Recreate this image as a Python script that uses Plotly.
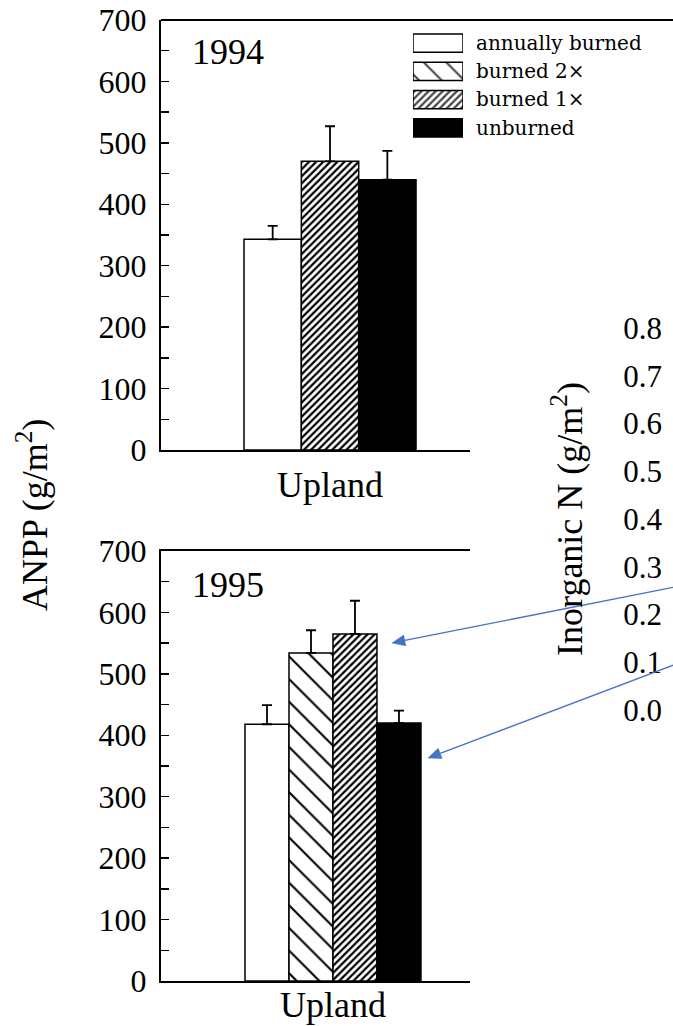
import math
import plotly.graph_objects as go

W, H = 673, 1026


def fx(x):
    return x / W


def fy(y):
    return 1 - y / H


# ---------------- data ----------------
site = ["Upland"]
treatments = ["annually burned", "burned 2×", "burned 1×", "unburned"]

treat_1994 = ["annually burned", "burned 1×", "unburned"]
anpp_1994 = [343, 470, 440]
err_1994 = [22, 57, 47]

treat_1995 = ["annually burned", "burned 2×", "burned 1×", "unburned"]
anpp_1995 = [418, 534, 565, 420]
err_1995 = [31, 37, 54, 20]

anpp_ticks = [0, 100, 200, 300, 400, 500, 600, 700]
n_ticks = [0.0, 0.1, 0.2, 0.3, 0.4, 0.5, 0.6, 0.7, 0.8]

# ---------------- styles ----------------
style = {
    "annually burned": dict(color="white", shape="", size=8, solidity=0.2),
    "burned 2×": dict(color="white", shape="\\", size=16, solidity=0.13),
    "burned 1×": dict(color="white", shape="/", size=5, solidity=0.45),
    "unburned": dict(color="black", shape="", size=8, solidity=0.2),
}

SERIF = "Liberation Serif"

fig = go.Figure()


def add_panel(treats, vals, errs, xa, ya):
    for t, v, e in zip(treats, vals, errs):
        s = style[t]
        fig.add_trace(go.Bar(
            x=site, y=[v], name=t, xaxis=xa, yaxis=ya,
            marker=dict(
                color=s["color"],
                line=dict(color="black", width=1.5),
                pattern=dict(shape=s["shape"], size=s["size"], solidity=s["solidity"],
                             fgcolor="black", bgcolor=s["color"], fgopacity=1,
                             fillmode="overlay"),
            ),
            error_y=dict(type="data", symmetric=False, array=[e], arrayminus=[0],
                         color="black", thickness=1.8, width=5),
            showlegend=False,
        ))


add_panel(treat_1994, anpp_1994, err_1994, "x", "y")
add_panel(treat_1995, anpp_1995, err_1995, "x2", "y2")

# legend swatches (drawn as a bar trace on a hidden axis)
fig.add_trace(go.Bar(
    x=[1] * len(treatments), y=list(range(len(treatments))), orientation="h",
    xaxis="x4", yaxis="y4", width=0.64,
    marker=dict(
        color=[style[t]["color"] for t in treatments],
        line=dict(color="black", width=1.5),
        pattern=dict(shape=[style[t]["shape"] for t in treatments],
                     size=[style[t]["size"] for t in treatments],
                     solidity=[style[t]["solidity"] for t in treatments],
                     fgcolor="black", fgopacity=1,
                     bgcolor=[style[t]["color"] for t in treatments],
                     fillmode="overlay"),
    ),
    showlegend=False, hoverinfo="skip",
))

# empty trace to host the cropped Inorganic N axis
fig.add_trace(go.Scatter(x=[], y=[], xaxis="x3", yaxis="y3", showlegend=False))

yax = dict(
    range=[0, 700], tickmode="array", tickvals=anpp_ticks,
    ticks="inside", ticklen=8, tickwidth=1.5, tickcolor="black",
    minor=dict(ticks="inside", ticklen=8, dtick=50, tickwidth=1.5, tickcolor="black"),
    showline=True, linewidth=2, linecolor="black",
    showgrid=False, zeroline=False,
    tickfont=dict(family=SERIF, size=32, color="black"),
    ticklabelstandoff=6, automargin=False,
)
xax = dict(
    type="category", showline=True, linewidth=2, linecolor="black",
    ticks="", showgrid=False, zeroline=False,
    tickfont=dict(family=SERIF, size=36, color="black"),
    automargin=False,
)

fig.update_layout(
    width=W, height=H, margin=dict(l=0, r=0, t=0, b=0, pad=0, autoexpand=False),
    paper_bgcolor="white", plot_bgcolor="rgba(0,0,0,0)",
    barmode="group", bargap=0.2, bargroupgap=0,
    showlegend=False,
    xaxis=dict(xax, domain=[fx(161), fx(470)], range=[-0.786, 0.651], anchor="y",
               ticklabelstandoff=2),
    yaxis=dict(yax, domain=[fy(450), fy(20)], anchor="x"),
    xaxis2=dict(xax, domain=[fx(161), fx(470)], range=[-0.782, 0.623], anchor="y2",
                mirror=True, ticklabelstandoff=-9),
    yaxis2=dict(yax, domain=[fy(981), fy(551)], anchor="x2"),
    xaxis3=dict(domain=[0.97, 1.0], visible=False, anchor="y3", range=[0, 1]),
    yaxis3=dict(
        domain=[fy(710), fy(328)], range=[0, 0.8], anchor="free", position=fx(662),
        tickmode="array", tickvals=n_ticks, tickformat=".1f",
        showline=False, ticks="", showgrid=False, zeroline=False, automargin=False,
        tickfont=dict(family=SERIF, size=31, color="black"),
        title=dict(text="Inorganic N (g/m<sup>2</sup>)",
                   font=dict(family=SERIF, size=36, color="black"), standoff=28),
    ),
    xaxis4=dict(domain=[fx(413), fx(463)], range=[0, 1], visible=False, anchor="y4"),
    yaxis4=dict(domain=[fy(142), fy(29)], range=[3.5, -0.5], visible=False, anchor="x4"),
)

shapes = []
# top frame line of upper panel (runs to the page edge)
shapes.append(dict(type="line", xref="paper", yref="paper",
                   x0=fx(161), x1=1.0, y0=fy(20), y1=fy(20),
                   line=dict(color="black", width=2)))

# blue pointer arrows (tip px, tail px) drawn as line + triangular head
arrow_defs = [((392, 643), (700, 582)), ((428, 758), (700, 655))]
for (tx, ty), (sx, sy) in arrow_defs:
    dx, dy = tx - sx, ty - sy
    L = math.hypot(dx, dy)
    ux, uy = dx / L, dy / L
    hl, hw = 13, 5.5
    bx, by = tx - ux * hl, ty - uy * hl
    px_, py_ = -uy, ux
    shapes.append(dict(type="line", xref="paper", yref="paper",
                       x0=fx(sx), y0=fy(sy), x1=fx(bx), y1=fy(by),
                       line=dict(color="#4472C4", width=1.3)))
    pts = [(tx, ty), (bx + px_ * hw, by + py_ * hw), (bx - px_ * hw, by - py_ * hw)]
    path = "M {} {} L {} {} L {} {} Z".format(*[v for p in pts for v in (fx(p[0]), fy(p[1]))])
    shapes.append(dict(type="path", xref="paper", yref="paper", path=path,
                       fillcolor="#4472C4", line=dict(color="#4472C4", width=0.5)))

ann = []
ann.append(dict(text="1994", x=fx(190), y=fy(52), xanchor="left", yanchor="middle",
                font=dict(family=SERIF, size=36, color="black")))
ann.append(dict(text="1995", x=fx(190), y=fy(585), xanchor="left", yanchor="middle",
                font=dict(family=SERIF, size=36, color="black")))
ann.append(dict(text="ANPP (g/m<sup>2</sup>)", x=fx(32), y=fy(515), textangle=-90,
                xanchor="center", yanchor="middle",
                font=dict(family=SERIF, size=36, color="black")))
row_y = [43, 71, 99.5, 128]
for t, ry in zip(treatments, row_y):
    ann.append(dict(text=t, x=fx(474), y=fy(ry), xanchor="left", yanchor="middle",
                    font=dict(family="DejaVu Serif", size=20, color="black")))
for a in ann:
    a.update(xref="paper", yref="paper", showarrow=False)

fig.update_layout(annotations=ann, shapes=shapes)

fig.write_html("out.html",
               config={"displayModeBar": False, "staticPlot": True},
               post_script="document.body.style.margin='0';"
                           "document.body.style.overflow='hidden';")
